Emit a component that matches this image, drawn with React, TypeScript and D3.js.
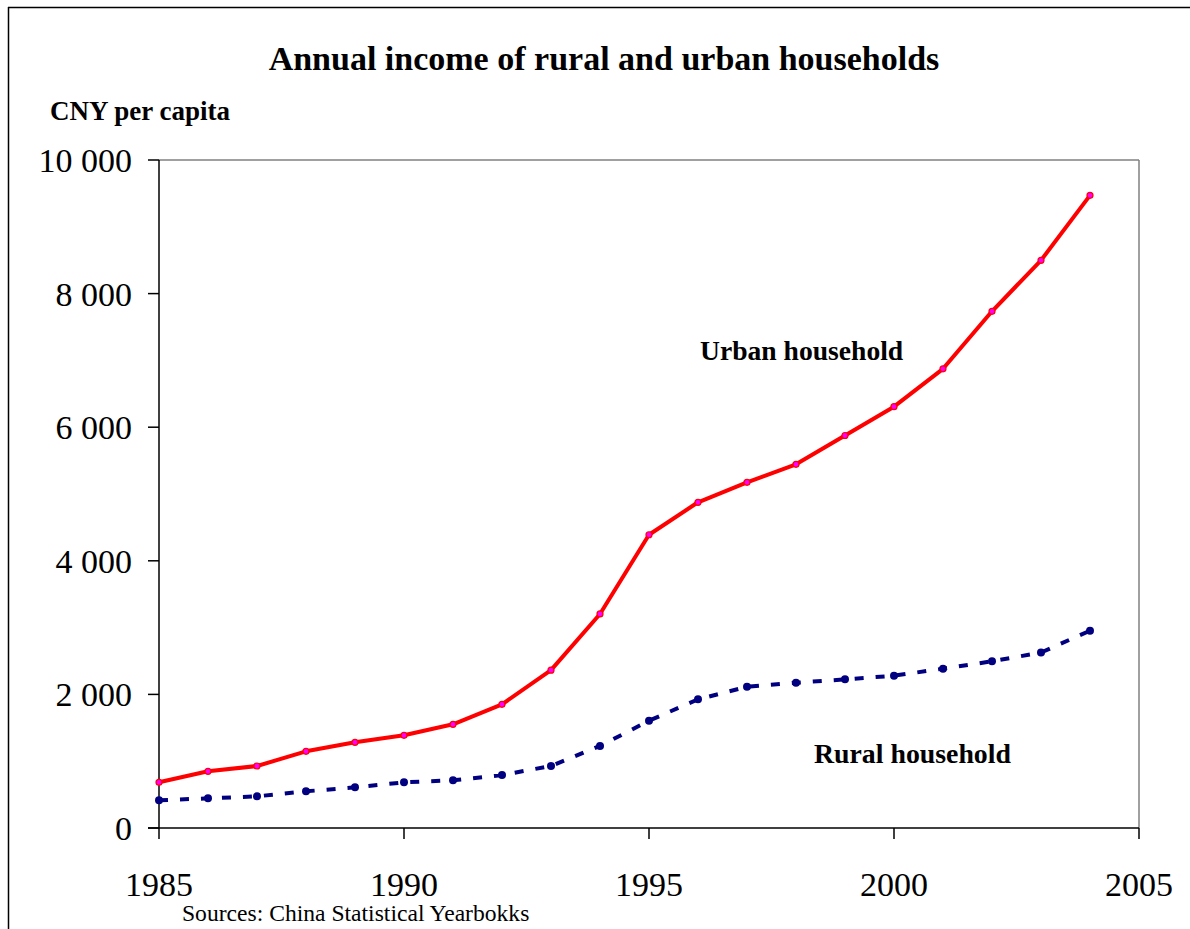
import React from "react";
import * as d3 from "d3";

const years = [1985, 1986, 1987, 1988, 1989, 1990, 1991, 1992, 1993, 1994, 1995, 1996, 1997, 1998, 1999, 2000, 2001, 2002, 2003, 2004];
const urban = [684, 849, 928, 1148, 1283, 1388, 1552, 1852, 2363, 3204, 4390, 4876, 5175, 5444, 5876, 6307, 6874, 7735, 8498, 9471];
const rural = [414, 444, 474, 549, 609, 684, 714, 793, 928, 1228, 1606, 1926, 2115, 2175, 2225, 2280, 2385, 2495, 2627, 2954];
const yTicks = [0, 2000, 4000, 6000, 8000, 10000];
const xTicks = [1985, 1990, 1995, 2000, 2005];

const W = 1190;
const H = 929;
const FONT = "'Liberation Serif', 'Times New Roman', serif";

export default function App() {
  const x = d3.scaleLinear().domain([1985, 2005]).range([159, 1139]);
  const y = d3.scaleLinear().domain([0, 10000]).range([828, 160]);
  const line = d3
    .line<number>()
    .x((_, i) => x(years[i]))
    .y((d) => y(d));
  const fmt = (v: number) => d3.format(",")(v).replace(/,/g, " ");

  return (
    <svg
      width={W}
      height={H}
      style={{ position: "absolute", left: 0, top: 0, background: "#fff" }}
    >
      <rect x={0} y={0} width={W} height={H} fill="#fff" />
      {/* outer frame */}
      <line x1={8} y1={7.5} x2={W} y2={7.5} stroke="#000" strokeWidth={1.5} />
      <line x1={8.5} y1={7} x2={8.5} y2={H} stroke="#000" strokeWidth={1.5} />

      <text x={604} y={70} textAnchor="middle" fontFamily={FONT} fontWeight="bold" fontSize={34}>
        Annual income of rural and urban households
      </text>
      <text x={50} y={120} fontFamily={FONT} fontWeight="bold" fontSize={27}>
        CNY per capita
      </text>

      {/* plot frame */}
      <line x1={159} y1={160} x2={1139} y2={160} stroke="#808080" strokeWidth={1.5} />
      <line x1={1139} y1={160} x2={1139} y2={828} stroke="#808080" strokeWidth={1.5} />
      <line x1={159} y1={160} x2={159} y2={828} stroke="#000" strokeWidth={1.5} />
      <line x1={148} y1={828} x2={1139} y2={828} stroke="#000" strokeWidth={1.5} />

      {yTicks.map((t) => (
        <g key={"y" + t}>
          <line x1={148} x2={159} y1={y(t)} y2={y(t)} stroke="#000" strokeWidth={1.5} />
          <text x={132} y={y(t) + 12} textAnchor="end" fontFamily={FONT} fontSize={34}>
            {fmt(t)}
          </text>
        </g>
      ))}
      {xTicks.map((t) => (
        <g key={"x" + t}>
          <line x1={x(t)} x2={x(t)} y1={828} y2={839} stroke="#000" strokeWidth={1.5} />
          <text x={x(t)} y={896} textAnchor="middle" fontFamily={FONT} fontSize={34}>
            {t}
          </text>
        </g>
      ))}

      <path d={line(urban) || ""} fill="none" stroke="#ff0000" strokeWidth={4} strokeLinejoin="round" />
      {urban.map((v, i) => (
        <circle key={"u" + i} cx={x(years[i])} cy={y(v)} r={3} fill="#ff00ff" stroke="#ff0000" strokeWidth={1.2} />
      ))}

      <path d={line(rural) || ""} fill="none" stroke="#000080" strokeWidth={4} strokeDasharray="9,12" />
      {rural.map((v, i) => (
        <circle key={"r" + i} cx={x(years[i])} cy={y(v)} r={4} fill="#000080" />
      ))}

      <text x={700} y={360} fontFamily={FONT} fontWeight="bold" fontSize={27.6}>
        Urban household
      </text>
      <text x={814} y={763} fontFamily={FONT} fontWeight="bold" fontSize={27.8}>
        Rural household
      </text>

      <text x={182} y={921} fontFamily={FONT} fontSize={23.6}>
        Sources: China Statistical Yearbokks
      </text>
    </svg>
  );
}
